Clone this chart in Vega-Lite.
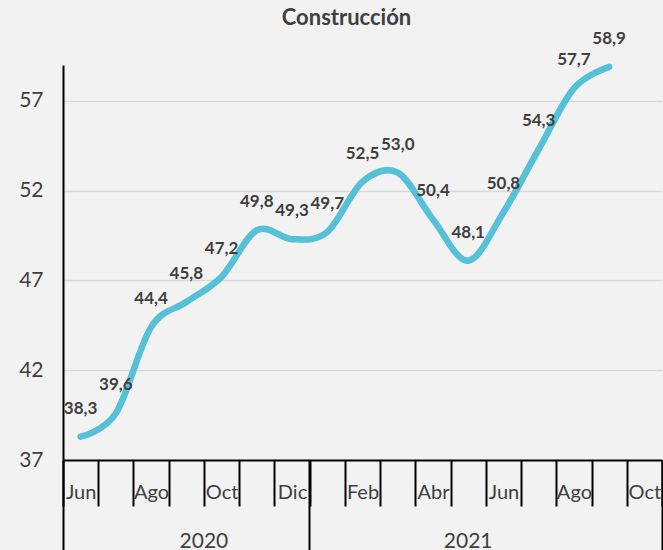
{
  "$schema": "https://vega.github.io/schema/vega-lite/v6.json",
  "width": 599,
  "height": 395,
  "autosize": {"type": "none"},
  "padding": {"left": 63, "top": 65, "right": 1, "bottom": 90},
  "background": "#f2f2f2",
  "config": {
    "view": {"stroke": null},
    "font": "Lato"
  },
  "title": {"text": "Construcción", "fontSize": 22, "fontWeight": "bold", "color": "#404040", "font": "Lato", "dx": -16, "offset": 0},
  "data": {"values": [
    {"month": "2020-06", "value": 38.3, "label": "38,3"},
    {"month": "2020-07", "value": 39.6, "label": "39,6"},
    {"month": "2020-08", "value": 44.4, "label": "44,4"},
    {"month": "2020-09", "value": 45.8, "label": "45,8"},
    {"month": "2020-10", "value": 47.2, "label": "47,2"},
    {"month": "2020-11", "value": 49.8, "label": "49,8"},
    {"month": "2020-12", "value": 49.3, "label": "49,3"},
    {"month": "2021-01", "value": 49.7, "label": "49,7"},
    {"month": "2021-02", "value": 52.5, "label": "52,5"},
    {"month": "2021-03", "value": 53.0, "label": "53,0"},
    {"month": "2021-04", "value": 50.4, "label": "50,4"},
    {"month": "2021-05", "value": 48.1, "label": "48,1"},
    {"month": "2021-06", "value": 50.8, "label": "50,8"},
    {"month": "2021-07", "value": 54.3, "label": "54,3"},
    {"month": "2021-08", "value": 57.7, "label": "57,7"},
    {"month": "2021-09", "value": 58.9, "label": "58,9"}
  ]},
  "encoding": {
    "y": {
      "field": "value", "type": "quantitative",
      "scale": {"domain": [37, 59], "nice": false, "zero": false},
      "axis": {"values": [37, 42, 47, 52, 57], "title": null, "ticks": false, "labelPadding": 20, "labelFontSize": 21, "labelColor": "#404040", "labelFont": "Lato", "domainColor": "#000000", "domainWidth": 2, "gridColor": "#d9d9d9", "gridWidth": 1.5}
    }
  },
  "layer": [
    {
      "mark": {"type": "line", "color": "#55c0d8", "strokeWidth": 6.5, "interpolate": "cardinal", "tension": 0, "strokeCap": "round", "strokeJoin": "round"},
      "encoding": {
        "x": {
          "field": "month", "type": "ordinal", "bandPosition": 0.5,
          "scale": {"type": "band", "paddingInner": 0, "paddingOuter": 0, "domain": ["2020-06","2020-07","2020-08","2020-09","2020-10","2020-11","2020-12","2021-01","2021-02","2021-03","2021-04","2021-05","2021-06","2021-07","2021-08","2021-09","2021-10"]},
          "axis": {
            "orient": "bottom", "title": null, "tickBand": "extent", "grid": false,
            "domainColor": "#000000", "domainWidth": 2,
            "tickColor": "#000000", "tickWidth": 2, "tickSize": 46,
            "labelExpr": "{'02':'Feb','04':'Abr','06':'Jun','08':'Ago','10':'Oct','12':'Dic'}[slice('' + datum.value, 5)] || ''",
            "labelAngle": 0, "labelOverlap": false, "labelBound": false, "labelFontSize": 20, "labelColor": "#404040", "labelFont": "Lato", "labelPadding": -24
          }
        }
      }
    },
    {
      "mark": {"type": "text", "dy": -28, "fontSize": 17, "fontWeight": "bold", "color": "#404040", "font": "Lato"},
      "encoding": {
        "x": {
          "field": "month", "type": "ordinal", "bandPosition": 0.5,
          "axis": {
            "orient": "bottom", "title": null, "values": ["2020-06", "2021-01"], "bandPosition": 0, "domain": false, "grid": false,
            "ticks": true, "tickColor": "#000000", "tickWidth": 2, "tickSize": 90,
            "labelExpr": "datum.value === '2020-06' ? '2020' : ''", "labelAngle": 0, "labelAlign": "center", "labelOverlap": false, "labelBound": false,
            "labelFontSize": 21, "labelColor": "#404040", "labelFont": "Lato", "labelPadding": -20, "labelOffset": 123.3
          }
        },
        "text": {"field": "label", "type": "nominal"}
      }
    },
    {
      "mark": {"type": "rule", "opacity": 0},
      "encoding": {
        "x": {
          "field": "month", "type": "ordinal",
          "axis": {
            "orient": "bottom", "title": null, "values": ["2021-10"], "bandPosition": 1, "domain": false, "grid": false,
            "ticks": true, "tickColor": "#000000", "tickWidth": 2, "tickSize": 90,
            "labelExpr": "'2021'", "labelAngle": 0, "labelAlign": "center", "labelOverlap": false, "labelBound": false,
            "labelFontSize": 21, "labelColor": "#404040", "labelFont": "Lato", "labelPadding": -20, "labelOffset": -176.2
          }
        }
      }
    }
  ],
  "resolve": {"axis": {"x": "independent"}}
}
